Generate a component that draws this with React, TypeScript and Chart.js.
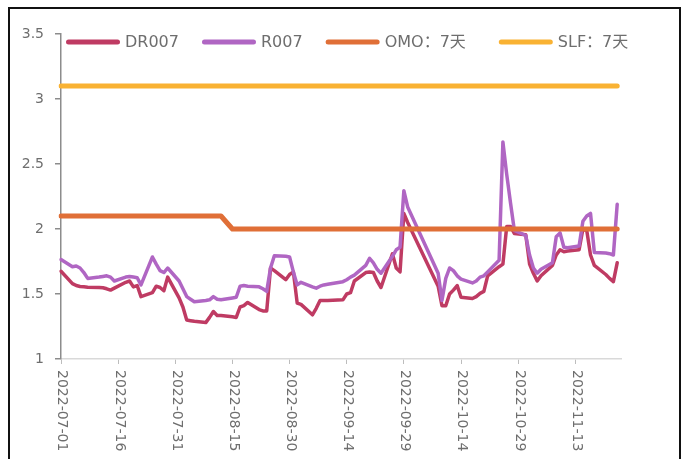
import React, { useEffect, useRef } from "react";
import { Chart, registerables } from "chart.js";

Chart.register(...registerables);

// Trading days shown in the chart
const tradeDates = [
  "2022-07-01", "2022-07-04", "2022-07-05", "2022-07-06", "2022-07-07", "2022-07-08",
  "2022-07-11", "2022-07-12", "2022-07-13", "2022-07-14", "2022-07-15",
  "2022-07-18", "2022-07-19", "2022-07-20", "2022-07-21", "2022-07-22",
  "2022-07-25", "2022-07-26", "2022-07-27", "2022-07-28", "2022-07-29",
  "2022-08-01", "2022-08-02", "2022-08-03", "2022-08-04", "2022-08-05",
  "2022-08-08", "2022-08-09", "2022-08-10", "2022-08-11", "2022-08-12",
  "2022-08-15", "2022-08-16", "2022-08-17", "2022-08-18", "2022-08-19",
  "2022-08-22", "2022-08-23", "2022-08-24", "2022-08-25", "2022-08-26",
  "2022-08-29", "2022-08-30", "2022-08-31",
  "2022-09-01", "2022-09-02",
  "2022-09-05", "2022-09-06", "2022-09-07", "2022-09-08", "2022-09-09",
  "2022-09-13", "2022-09-14", "2022-09-15", "2022-09-16",
  "2022-09-19", "2022-09-20", "2022-09-21", "2022-09-22", "2022-09-23",
  "2022-09-26", "2022-09-27", "2022-09-28", "2022-09-29", "2022-09-30",
  "2022-10-08", "2022-10-09",
  "2022-10-10", "2022-10-11", "2022-10-12", "2022-10-13", "2022-10-14",
  "2022-10-17", "2022-10-18", "2022-10-19", "2022-10-20", "2022-10-21",
  "2022-10-24", "2022-10-25", "2022-10-26", "2022-10-27", "2022-10-28",
  "2022-10-31",
  "2022-11-01", "2022-11-02", "2022-11-03", "2022-11-04",
  "2022-11-07", "2022-11-08", "2022-11-09", "2022-11-10", "2022-11-11",
  "2022-11-14", "2022-11-15", "2022-11-16", "2022-11-17", "2022-11-18",
  "2022-11-21", "2022-11-22", "2022-11-23", "2022-11-24",
];

const dr007 = [
  1.675, 1.58, 1.565, 1.558, 1.555, 1.552, 1.55, 1.548, 1.54, 1.53, 1.545,
  1.59, 1.6, 1.555, 1.565, 1.48, 1.51, 1.56, 1.55, 1.525, 1.63,
  1.47, 1.4, 1.3, 1.295, 1.29, 1.28, 1.32, 1.365, 1.335, 1.335,
  1.325, 1.32, 1.4, 1.41, 1.435, 1.38, 1.37, 1.37, 1.7, 1.68,
  1.61, 1.65, 1.67,
  1.43, 1.42, 1.34, 1.39, 1.45, 1.45, 1.45, 1.455, 1.5, 1.51, 1.6,
  1.665, 1.67, 1.665, 1.6, 1.55, 1.81, 1.7, 1.67, 2.12, 2.05,
  1.56, 1.41, 1.41, 1.5, 1.53, 1.565, 1.475, 1.465, 1.48, 1.505, 1.52, 1.64,
  1.71, 1.73, 2.02, 2.02, 1.965, 1.955,
  1.73, 1.66, 1.6, 1.64, 1.72, 1.8, 1.84, 1.825, 1.83,
  1.84, 2.0, 1.99, 1.8, 1.72, 1.65, 1.62, 1.595, 1.74,
];

const r007 = [
  1.765, 1.71, 1.715, 1.7, 1.665, 1.62, 1.63, 1.635, 1.64, 1.63, 1.6,
  1.63, 1.635, 1.63, 1.625, 1.57, 1.785, 1.73, 1.68, 1.665, 1.7,
  1.6, 1.54, 1.48, 1.46, 1.44, 1.45, 1.455, 1.48, 1.46, 1.455,
  1.47, 1.475, 1.56, 1.565, 1.56, 1.555, 1.54, 1.52, 1.7, 1.795,
  1.79, 1.785, 1.67,
  1.57, 1.59, 1.555, 1.545, 1.56, 1.57, 1.575, 1.595, 1.61, 1.63, 1.645,
  1.72, 1.775, 1.74, 1.69, 1.66, 1.79, 1.84, 1.86, 2.295, 2.17,
  1.66, 1.45, 1.62, 1.7, 1.68, 1.64, 1.615, 1.585, 1.6, 1.63, 1.64, 1.67,
  1.76, 2.67, 2.42, 2.2, 1.99, 1.95,
  1.8, 1.7, 1.66, 1.69, 1.74, 1.94, 1.97, 1.86, 1.855,
  1.87, 2.06, 2.1, 2.12, 1.82, 1.815, 1.81, 1.8, 2.19,
];

const omo7d = [
  2.1, 2.1, 2.1, 2.1, 2.1, 2.1, 2.1, 2.1, 2.1, 2.1, 2.1,
  2.1, 2.1, 2.1, 2.1, 2.1, 2.1, 2.1, 2.1, 2.1, 2.1,
  2.1, 2.1, 2.1, 2.1, 2.1, 2.1, 2.1, 2.1, 2.1, 2.1,
  2.0, 2.0, 2.0, 2.0, 2.0, 2.0, 2.0, 2.0, 2.0, 2.0,
  2.0, 2.0, 2.0,
  2.0, 2.0, 2.0, 2.0, 2.0, 2.0, 2.0, 2.0, 2.0, 2.0, 2.0,
  2.0, 2.0, 2.0, 2.0, 2.0, 2.0, 2.0, 2.0, 2.0, 2.0,
  2.0, 2.0, 2.0, 2.0, 2.0, 2.0, 2.0, 2.0, 2.0, 2.0, 2.0, 2.0,
  2.0, 2.0, 2.0, 2.0, 2.0, 2.0,
  2.0, 2.0, 2.0, 2.0, 2.0, 2.0, 2.0, 2.0, 2.0,
  2.0, 2.0, 2.0, 2.0, 2.0, 2.0, 2.0, 2.0, 2.0,
];

const slf7d = [
  3.1, 3.1, 3.1, 3.1, 3.1, 3.1, 3.1, 3.1, 3.1, 3.1, 3.1,
  3.1, 3.1, 3.1, 3.1, 3.1, 3.1, 3.1, 3.1, 3.1, 3.1,
  3.1, 3.1, 3.1, 3.1, 3.1, 3.1, 3.1, 3.1, 3.1, 3.1,
  3.1, 3.1, 3.1, 3.1, 3.1, 3.1, 3.1, 3.1, 3.1, 3.1,
  3.1, 3.1, 3.1,
  3.1, 3.1, 3.1, 3.1, 3.1, 3.1, 3.1, 3.1, 3.1, 3.1, 3.1,
  3.1, 3.1, 3.1, 3.1, 3.1, 3.1, 3.1, 3.1, 3.1, 3.1,
  3.1, 3.1, 3.1, 3.1, 3.1, 3.1, 3.1, 3.1, 3.1, 3.1, 3.1, 3.1,
  3.1, 3.1, 3.1, 3.1, 3.1, 3.1,
  3.1, 3.1, 3.1, 3.1, 3.1, 3.1, 3.1, 3.1, 3.1,
  3.1, 3.1, 3.1, 3.1, 3.1, 3.1, 3.1, 3.1, 3.1,
];

const seriesNames = ["DR007", "R007", "OMO：7天", "SLF：7天"];
const seriesColors = ["#bf3b63", "#b066c3", "#e06f37", "#f9b233"];

const axisStart = "2022-07-01";
const axisEnd = "2022-11-25";
const labelEvery = 15;
const yTicks = { min: 1, max: 3.5, step: 0.5 };

function buildCalendar(start: string, end: string): string[] {
  const out: string[] = [];
  const d = new Date(start + "T00:00:00Z");
  const e = new Date(end + "T00:00:00Z");
  while (d.getTime() <= e.getTime()) {
    out.push(d.toISOString().slice(0, 10));
    d.setUTCDate(d.getUTCDate() + 1);
  }
  return out;
}

function align(calendar: string[], values: number[]): (number | null)[] {
  const map = new Map<string, number>();
  tradeDates.forEach((dt, i) => map.set(dt, values[i]));
  return calendar.map((dt) => (map.has(dt) ? (map.get(dt) as number) : null));
}

const FONT = '"DejaVu Sans", "Noto Sans CJK SC", sans-serif';
const TEXT = "#6e6e6e";

export default function App() {
  const ref = useRef<HTMLCanvasElement | null>(null);

  useEffect(() => {
    if (!ref.current) return;
    const calendar = buildCalendar(axisStart, axisEnd);
    const values = [dr007, r007, omo7d, slf7d];
    const widths = [3.5, 3.5, 5, 5];
    const orders = [3, 2, 1, 0];
    const legendGaps = [23, 23, 33, 0];

    const overlay = {
      id: "overlay",
      afterDraw(chart: any) {
        const { ctx, chartArea, scales } = chart;
        const xs = scales.x;
        ctx.save();
        // x tick labels, rotated clockwise
        ctx.font = "14px " + FONT;
        ctx.fillStyle = TEXT;
        ctx.textAlign = "left";
        ctx.textBaseline = "middle";
        calendar.forEach((lab, i) => {
          if (i % labelEvery !== 0) return;
          const px = xs.getPixelForTick(i);
          ctx.save();
          ctx.translate(px + 1, chartArea.bottom + 11);
          ctx.rotate(Math.PI / 2);
          ctx.fillText(lab, 0, 0);
          ctx.restore();
        });
        // legend
        ctx.font = "16px " + FONT;
        let x = chartArea.left + 5;
        const cy = chartArea.top + 8;
        chart.data.datasets.forEach((ds: any, i: number) => {
          ctx.strokeStyle = ds.borderColor;
          ctx.lineWidth = 5;
          ctx.lineCap = "round";
          ctx.beginPath();
          ctx.moveTo(x + 2.5, cy);
          ctx.lineTo(x + 51.5, cy);
          ctx.stroke();
          ctx.fillStyle = TEXT;
          ctx.fillText(ds.label, x + 59, cy + 1);
          x += 59 + ctx.measureText(ds.label).width + legendGaps[i];
        });
        ctx.restore();
      },
    };

    const chart = new Chart(ref.current, {
      type: "line",
      data: {
        labels: calendar,
        datasets: seriesNames.map((name, i) => ({
          label: name,
          data: align(calendar, values[i]),
          borderColor: seriesColors[i],
          backgroundColor: seriesColors[i],
          borderWidth: widths[i],
          pointRadius: 0,
          pointHoverRadius: 0,
          tension: 0,
          spanGaps: true,
          borderCapStyle: "round",
          borderJoinStyle: "round",
          order: orders[i],
          fill: false,
        })),
      },
      options: {
        responsive: false,
        animation: false,
        layout: { padding: { left: 0, top: 34, right: 64, bottom: 0 } },
        plugins: {
          legend: { display: false },
          tooltip: { enabled: false },
          title: { display: false },
        },
        scales: {
          x: {
            type: "category",
            offset: false,
            afterFit(scale: any) {
              scale.height = 100;
            },
            ticks: { display: false, autoSkip: false },
            grid: {
              drawOnChartArea: false,
              drawTicks: true,
              tickLength: 5,
              lineWidth: 1,
              color: (c: any) => (c.index % labelEvery === 0 ? "#bdbdbd" : "rgba(0,0,0,0)"),
            },
            border: { display: true, color: "#d9d9d9", width: 1.5 },
          },
          y: {
            min: yTicks.min,
            max: yTicks.max,
            afterFit(scale: any) {
              scale.width = 61;
            },
            ticks: {
              stepSize: yTicks.step,
              padding: 11,
              color: TEXT,
              font: { family: FONT, size: 14 },
              callback: (v: any) => String(Number(v)),
            },
            grid: {
              drawOnChartArea: false,
              drawTicks: true,
              tickLength: 6,
              color: "#8c8c8c",
              lineWidth: 1.5,
            },
            border: { display: true, color: "#8c8c8c", width: 1.5 },
          },
        },
      },
      plugins: [overlay],
    });
    return () => chart.destroy();
  }, []);

  return (
    <div style={{ position: "fixed", left: 0, top: 0, width: 685, height: 459, background: "#fff", overflow: "hidden" }}>
      <canvas ref={ref} width={685} height={459} style={{ position: "absolute", left: 0, top: 0, width: 685, height: 459 }} />
      <div
        style={{
          position: "absolute",
          left: 8,
          top: 7,
          width: 673,
          height: 480,
          border: "2px solid #111",
          boxSizing: "border-box",
          pointerEvents: "none",
        }}
      />
    </div>
  );
}
